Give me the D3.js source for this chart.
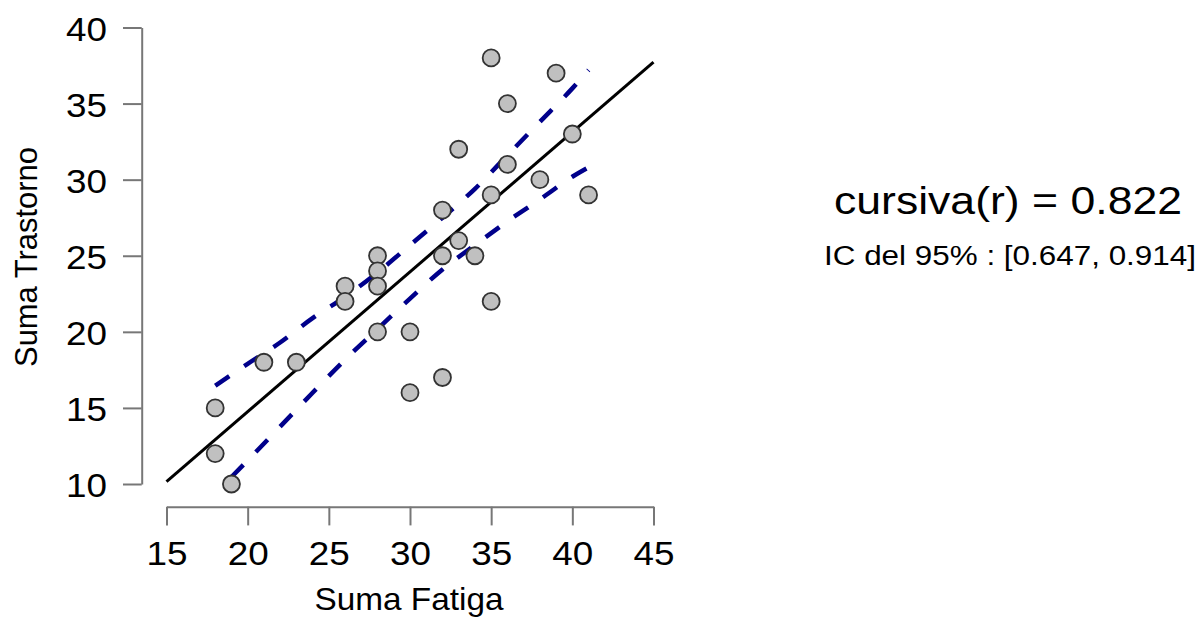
<!DOCTYPE html>
<html>
<head>
<meta charset="utf-8">
<script src="https://cdn.jsdelivr.net/npm/d3@7"></script>
<style>
  body { margin: 0; background: #fff; }
  svg { font-family: "Liberation Sans", Arial, sans-serif; }
</style>
</head>
<body>
<script>
// datos
var fatiga    = [18,18,19,21,23,26,26,28,28,28,28,30,30,32,32,32,33,33,34,35,35,35,36,36,38,39,40,41];
var trastorno = [15,12,10,18,18,23,22,25,24,23,20,20,16,28,25,17,32,26,25,38,29,22,35,31,30,37,33,29];

var xTicks = [15,20,25,30,35,40,45];
var yTicks = [10,15,20,25,30,35,40];

// recta de regresion
var ajusteX = [15, 45];
var ajusteY = [10.15, 37.73];

// bandas de confianza
var bandaSupX = [18,20,22,24,26,28,30,32,34,36,38,40,41];
var bandaSupY = [16.46,17.9,19.3,20.9,22.3,23.9,25.7,27.5,29.4,31.6,33.8,36.0,37.2];
var bandaInfX = [19,20,22,24,26,28,30,32,34,36,38,40,41];
var bandaInfY = [10.46,11.55,13.77,16.0,18.17,20.19,22.18,24.1,25.7,27.26,28.7,30.19,30.81];

var textoR  = 'cursiva(r) = 0.822';
var textoIC = 'IC del 95% : [0.647, 0.914]';

var svg = d3.select('body')
  .append('svg')
  .attr('width', 1201)
  .attr('height', 617);

var x = d3.scaleLinear().domain([15, 45]).range([166.5, 653.5]);
var y = d3.scaleLinear().domain([10, 40]).range([484, 27.5]);

// ejes
var gx = svg.append('g')
  .attr('transform', 'translate(0,506.7)')
  .call(d3.axisBottom(x).tickValues(xTicks).tickSize(18.7).tickSizeOuter(0).tickPadding(15));

var gy = svg.append('g')
  .attr('transform', 'translate(141.7,0)')
  .call(d3.axisLeft(y).tickValues(yTicks).tickSize(18.7).tickSizeOuter(0).tickPadding(16));

[gx, gy].forEach(function(g){
  g.select('.domain').attr('stroke', '#777').attr('stroke-width', 2);
  g.selectAll('.tick line').attr('stroke', '#777').attr('stroke-width', 2);
  g.selectAll('.tick text')
    .attr('fill', '#000')
    .attr('font-family', '"Liberation Sans", Arial, sans-serif')
    .attr('font-size', 34)
    .attr('textLength', 41)
    .attr('lengthAdjust', 'spacingAndGlyphs');
});
gy.selectAll('.tick text').attr('dy', '0.37em');

// titulos de ejes
svg.append('text')
  .attr('x', 409)
  .attr('y', 610)
  .attr('text-anchor', 'middle')
  .attr('font-size', 32)
  .attr('textLength', 189)
  .attr('lengthAdjust', 'spacingAndGlyphs')
  .text('Suma Fatiga');

svg.append('text')
  .attr('transform', 'translate(37,257) rotate(-90)')
  .attr('text-anchor', 'middle')
  .attr('font-size', 31)
  .attr('textLength', 220)
  .attr('lengthAdjust', 'spacingAndGlyphs')
  .text('Suma Trastorno');

// bandas
var linea = d3.line()
  .x(function(d){ return x(d[0]); })
  .y(function(d){ return y(d[1]); })
  .curve(d3.curveMonotoneX);

[[bandaSupX, bandaSupY], [bandaInfX, bandaInfY]].forEach(function(b){
  svg.append('path')
    .datum(d3.zip(b[0], b[1]))
    .attr('d', linea)
    .attr('fill', 'none')
    .attr('stroke', '#00008b')
    .attr('stroke-width', 4.5)
    .attr('stroke-dasharray', '17,18');
});

// recta
svg.append('path')
  .datum(d3.zip(ajusteX, ajusteY))
  .attr('d', d3.line().x(function(d){ return x(d[0]); }).y(function(d){ return y(d[1]); }))
  .attr('fill', 'none')
  .attr('stroke', '#000')
  .attr('stroke-width', 3);

// puntos
svg.append('g')
  .selectAll('circle')
  .data(d3.zip(fatiga, trastorno))
  .enter()
    .append('circle')
      .attr('cx', function(d){ return x(d[0]); })
      .attr('cy', function(d){ return y(d[1]); })
      .attr('r', 8.5)
      .attr('fill', '#c0c0c0')
      .attr('stroke', '#333')
      .attr('stroke-width', 1.8);

// anotacion
svg.append('text')
  .attr('x', 1008)
  .attr('y', 214)
  .attr('text-anchor', 'middle')
  .attr('font-size', 38)
  .attr('textLength', 348)
  .attr('lengthAdjust', 'spacingAndGlyphs')
  .text(textoR);

svg.append('text')
  .attr('x', 1010)
  .attr('y', 265)
  .attr('text-anchor', 'middle')
  .attr('font-size', 27)
  .attr('textLength', 372)
  .attr('lengthAdjust', 'spacingAndGlyphs')
  .text(textoIC);
</script>
</body>
</html>
